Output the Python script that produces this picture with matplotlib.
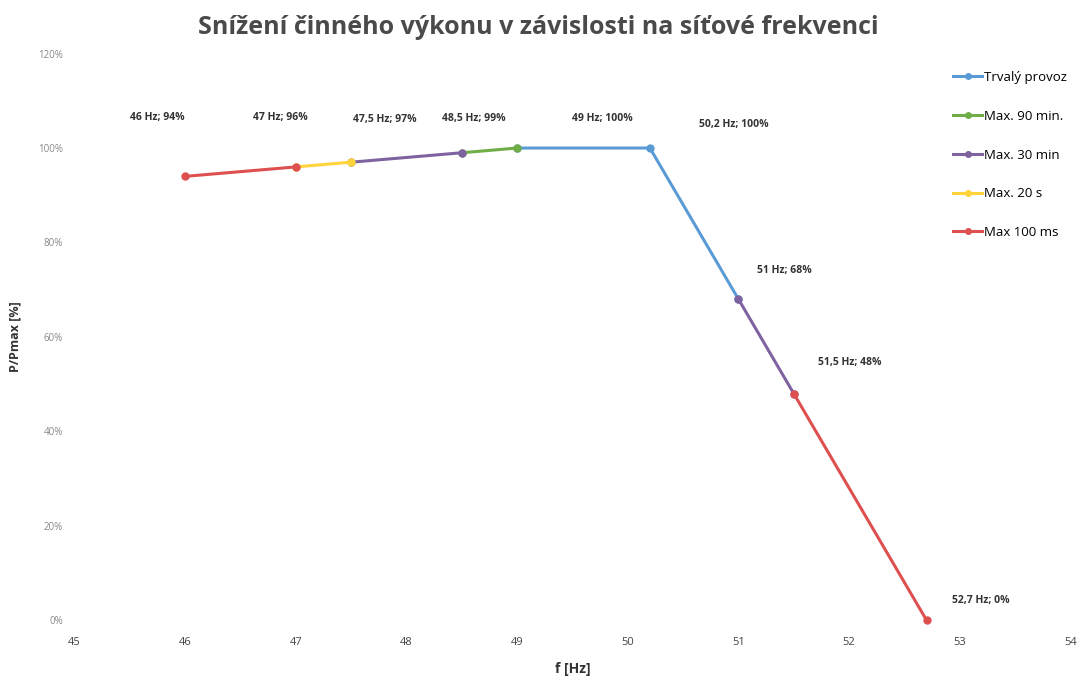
import numpy as np
import matplotlib.pyplot as plt
from matplotlib.ticker import PercentFormatter

plt.rcParams['font.family'] = ['Open Sans', 'DejaVu Sans']

# series data (nan = break in the line)
trvaly_f = [49, 50.2, 51]
trvaly_p = [100, 100, 68]
max90_f = [48.5, 49]
max90_p = [99, 100]
max30_f = [47.5, 48.5, np.nan, 51, 51.5]
max30_p = [97, 99, np.nan, 68, 48]
max20s_f = [47, 47.5]
max20s_p = [96, 97]
max100ms_f = [46, 47, np.nan, 51.5, 52.7]
max100ms_p = [94, 96, np.nan, 48, 0]

series_names = ['Trvalý provoz', 'Max. 90 min.', 'Max. 30 min', 'Max. 20 s', 'Max 100 ms']
series_colors = ['#5B9BD5', '#70AD47', '#7F62A0', '#FFD43B', '#DE5050']

# data labels
label_f = [46, 47, 47.5, 48.5, 49, 50.2, 51, 51.5, 52.7]
label_p = [94, 96, 97, 99, 100, 100, 68, 48, 0]
label_txt = ['46 Hz; 94%', '47 Hz; 96%', '47,5 Hz; 97%', '48,5 Hz; 99%', '49 Hz; 100%',
             '50,2 Hz; 100%', '51 Hz; 68%', '51,5 Hz; 48%', '52,7 Hz; 0%']
label_off = [(-28, 59), (-15, 49), (34, 43), (12, 34), (85, 30), (84, 24), (46, 29), (56, 31), (54, 20)]

fig = plt.figure(figsize=(10.77, 6.78), dpi=100)
ax = fig.add_axes([0.069, 0.085, 0.925, 0.836])

xs = [trvaly_f, max90_f, max30_f, max20s_f, max100ms_f]
ys = [trvaly_p, max90_p, max30_p, max20s_p, max100ms_p]
for x, y, name, c in zip(xs, ys, series_names, series_colors):
    ax.plot(x, y, color=c, lw=2.2, marker='o', ms=5, label=name, clip_on=False)

for f, p, t, off in zip(label_f, label_p, label_txt, label_off):
    ax.annotate(t, (f, p), xytext=off, textcoords='offset pixels', ha='center', va='center',
                fontsize=7.5, fontweight='bold', color='#333333')

ax.set_xlim(45, 54)
ax.set_ylim(0, 120)
ax.set_xticks(range(45, 55))
ax.set_yticks(range(0, 121, 20))
ax.yaxis.set_major_formatter(PercentFormatter(decimals=0))
ax.tick_params(length=0, pad=8)
ax.tick_params(axis='x', labelsize=8, labelcolor='#444444', pad=12)
ax.tick_params(axis='y', labelsize=7, labelcolor='#888888')
for s in ax.spines.values():
    s.set_visible(False)

ax.set_xlabel('f [Hz]', fontsize=10, fontweight='bold', color='#333333', labelpad=10)
ax.set_ylabel('P/Pmax [%]', fontsize=9, fontweight='bold', color='#333333', labelpad=12)
fig.suptitle('Snížení činného výkonu v závislosti na síťové frekvenci', fontsize=18,
             fontweight='bold', color='#4a4a4a', y=0.978)

ax.legend(loc='upper right', bbox_to_anchor=(1.008, 0.99), frameon=False, fontsize=9.5,
          handlelength=2.2, handletextpad=0.1, labelspacing=1.95, markerscale=0.8)

fig.savefig('out.png', dpi=100)
